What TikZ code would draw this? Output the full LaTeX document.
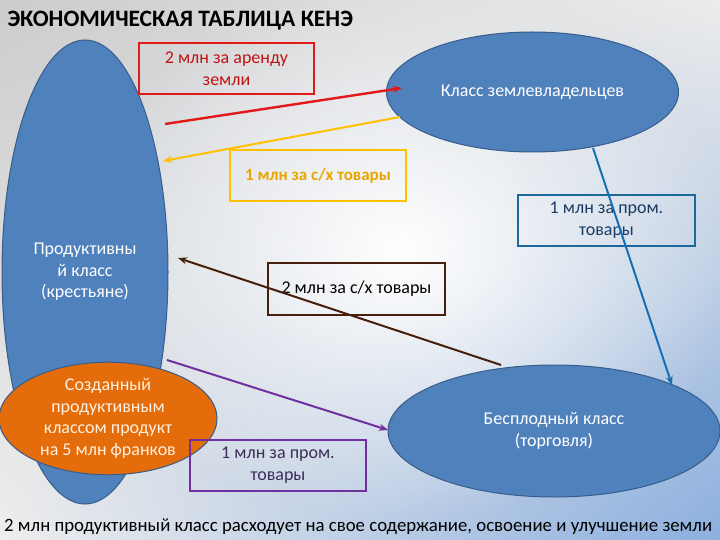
\documentclass[tikz,border=0pt]{standalone}
\usepackage{fontspec}
\setmainfont{Carlito}
\usetikzlibrary{shapes.geometric,arrows.meta,fadings,shadings}
\definecolor{bgA}{RGB}{204,204,204}
\definecolor{bgB}{RGB}{236,236,236}
\definecolor{bgC}{RGB}{238,238,238}
\definecolor{bgD}{RGB}{140,175,222}
\definecolor{ellfill}{RGB}{79,129,189}
\definecolor{elldraw}{RGB}{56,93,138}
\definecolor{orfill}{RGB}{228,108,10}
\definecolor{cred}{RGB}{225,25,25}
\definecolor{credtxt}{RGB}{192,20,20}
\definecolor{cyel}{RGB}{255,192,0}
\definecolor{cyeltxt}{RGB}{232,165,0}
\definecolor{cblue}{RGB}{20,112,180}
\definecolor{cteal}{RGB}{30,105,155}
\definecolor{ctealtxt}{RGB}{25,60,100}
\definecolor{cbrown}{RGB}{70,32,10}
\definecolor{cpurp}{RGB}{112,48,160}
\definecolor{cpurptxt}{RGB}{60,45,90}
\tikzfading[name=spot, inner color=transparent!0, outer color=transparent!100]
\tikzset{
  ell/.style={ellipse, fill=ellfill, draw=elldraw, line width=1pt, text=white, align=center, inner sep=0pt, font=\fontsize{18}{21.5}\selectfont},
  lbl/.style={rectangle, draw, line width=1.6pt, align=center, inner sep=0pt, font=\fontsize{18}{22}\selectfont},
  conn/.style={line width=2pt, -{Stealth[length=9pt,width=7pt]}}
}
\begin{document}
\begin{tikzpicture}[x=1pt,y=-1pt]
\useasboundingbox (0,0) rectangle (720,540);
\shade[upper left=bgA, upper right=bgB, lower left=bgC, lower right=bgD] (0,0) rectangle (720,540);
\fill[white, path fading=spot] (400,250) ellipse (340 and 270);
\node[anchor=base west, font=\fontsize{23.5}{26}\selectfont\bfseries] (title) at (4,27) {ЭКОНОМИЧЕСКАЯ ТАБЛИЦА КЕНЭ};
% tall ellipse
\node[ell, minimum width=166pt, minimum height=464pt] (prod) at (85,272) {Продуктивны\\й класс\\(крестьяне)};
% orange ellipse
\node[ell, fill=orfill, minimum width=218pt, minimum height=107pt, text=white!88!orange] (made) at (108,418.5) {Созданный\\продуктивным\\классом продукт\\на 5 млн франков};
% landlords
\node[ell, minimum width=292pt, minimum height=120pt] (land) at (532.5,92) {Класс землевладельцев};
% sterile
\node[ell, minimum width=332pt, minimum height=132pt] (ster) at (554,431) {Бесплодный класс\\(торговля)};
% boxes
\node[lbl, draw=cred, text=credtxt, minimum width=175pt, minimum height=51pt] (b1) at (226.5,68.5) {2 млн за аренду\\земли};
\node[lbl, draw=cyel, text=cyeltxt, minimum width=176pt, minimum height=51pt, font=\fontsize{17}{21}\selectfont\bfseries] (b2) at (318,175.5) {1 млн за с/х товары};
\node[lbl, draw=cteal, text=ctealtxt, minimum width=177pt, minimum height=51pt] (b3) at (606.5,220.5) {1 млн за пром.\\товары};
\node[lbl, draw=cbrown, text=black, minimum width=177pt, minimum height=52pt] (b4) at (356.5,289) {2 млн за с/х товары};
\node[lbl, draw=cpurp, text=cpurptxt, minimum width=176pt, minimum height=51pt] (b5) at (278,465.5) {1 млн за пром.\\товары};
% connector ends
\coordinate (r1) at (165,124); \coordinate (r2) at (402,88);
\coordinate (y1) at (400,117); \coordinate (y2) at (163,161);
\coordinate (u1) at (593,148); \coordinate (u2) at (672,385);
\coordinate (w1) at (501,365); \coordinate (w2) at (178,258);
\coordinate (p1) at (167,360); \coordinate (p2) at (388,430);
\draw[conn, cred, line width=2.4pt] (r1) -- (r2);
\draw[conn, cyel] (y1) -- (y2);
\draw[conn, cblue] (u1) -- (u2);
\draw[conn, cbrown] (w1) -- (w2);
\draw[conn, cpurp] (p1) -- (p2);
\node[anchor=base west, inner sep=0pt, font=\fontsize{18.8}{22}\selectfont] (foot) at (4,531) {2 млн продуктивный класс расходует на свое содержание, освоение и улучшение земли};
\end{tikzpicture}
\end{document}
